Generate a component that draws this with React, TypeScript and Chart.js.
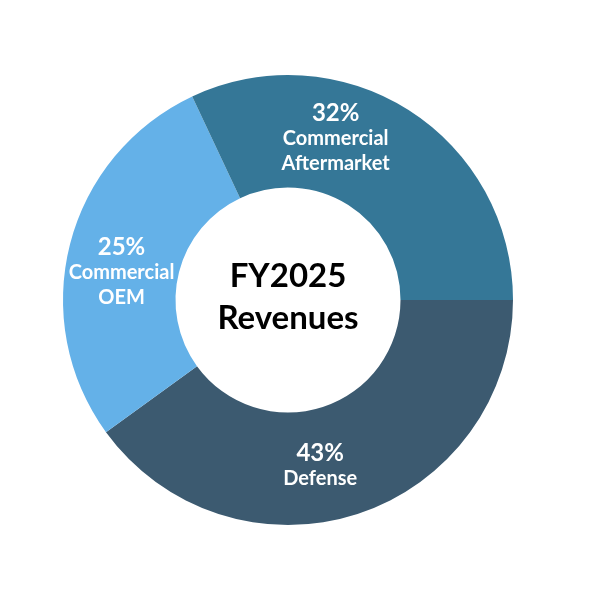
import React, { useEffect, useRef } from "react";
import Chart from "chart.js/auto";

const segments = ["Defense", "Commercial OEM", "Commercial Aftermarket"];
// slice sizes as drawn in the picture
const sliceValues = [40, 28, 32];
// percentages as printed on the slices
const percentLabels = ["43%", "25%", "32%"];
const labelLines = [["Defense"], ["Commercial", "OEM"], ["Commercial", "Aftermarket"]];
const centerLines = ["FY2025", "Revenues"];

const colors = ["#3c5a70", "#64b1e8", "#357797"];
// nudge for where each label sits along its slice, in degrees
const labelShift = [7, -5, -16];

const sliceLabels = {
  id: "sliceLabels",
  afterDatasetsDraw(chart: Chart) {
    const ctx = chart.ctx;
    const meta = chart.getDatasetMeta(0);
    ctx.save();
    ctx.fillStyle = "#ffffff";
    ctx.textAlign = "center";
    ctx.textBaseline = "middle";
    meta.data.forEach((el: any, i: number) => {
      const p = el.getProps(["x", "y", "startAngle", "endAngle", "innerRadius", "outerRadius"], true);
      const mid = (p.startAngle + p.endAngle) / 2 + (labelShift[i] * Math.PI) / 180;
      const r = (p.innerRadius + p.outerRadius) / 2;
      const cx = p.x + Math.cos(mid) * r;
      const cy = p.y + Math.sin(mid) * r;
      const lines = labelLines[i];
      const total = lines.length + 1;
      const lh = 25;
      let y = cy - ((total - 1) * lh) / 2;
      ctx.font = "bold 24px Lato";
      ctx.fillText(percentLabels[i], cx, y);
      ctx.font = "bold 20px Lato";
      lines.forEach((t) => {
        y += lh;
        ctx.fillText(t, cx, y);
      });
    });
    ctx.restore();
  },
};

const centerText = {
  id: "centerText",
  afterDraw(chart: Chart) {
    const ctx = chart.ctx;
    const el: any = chart.getDatasetMeta(0).data[0];
    if (!el) return;
    ctx.save();
    ctx.fillStyle = "#000000";
    ctx.textAlign = "center";
    ctx.textBaseline = "middle";
    ctx.font = "bold 33px Lato";
    ctx.fillText(centerLines[0], el.x, el.y - 24);
    ctx.fillText(centerLines[1], el.x, el.y + 18);
    ctx.restore();
  },
};

const App = () => {
  const chartRef = useRef<HTMLCanvasElement>(null);
  const chartInstance = useRef<Chart>();

  useEffect(() => {
    if (chartInstance.current) {
      chartInstance.current.destroy();
    }
    const myChartRef = chartRef.current?.getContext("2d");
    if (myChartRef) {
      chartInstance.current = new Chart(myChartRef, {
        type: "doughnut",
        data: {
          labels: segments,
          datasets: [
            {
              data: sliceValues,
              backgroundColor: colors,
              borderWidth: 0,
            },
          ],
        },
        options: {
          responsive: false,
          animation: false,
          rotation: 90,
          cutout: "50%",
          layout: { padding: { left: 51, right: 75, top: 75, bottom: 75 } },
          plugins: {
            legend: { display: false },
            tooltip: { enabled: false },
          },
        },
        plugins: [sliceLabels, centerText],
      });
    }
    return () => {
      if (chartInstance.current) {
        chartInstance.current.destroy();
      }
    };
  }, []);

  return (
    <div style={{ position: "absolute", left: 0, top: 0, width: 600, height: 600, background: "#fff" }}>
      <canvas ref={chartRef} width={600} height={600} style={{ width: "600px", height: "600px" }} />
    </div>
  );
};

export default App;
